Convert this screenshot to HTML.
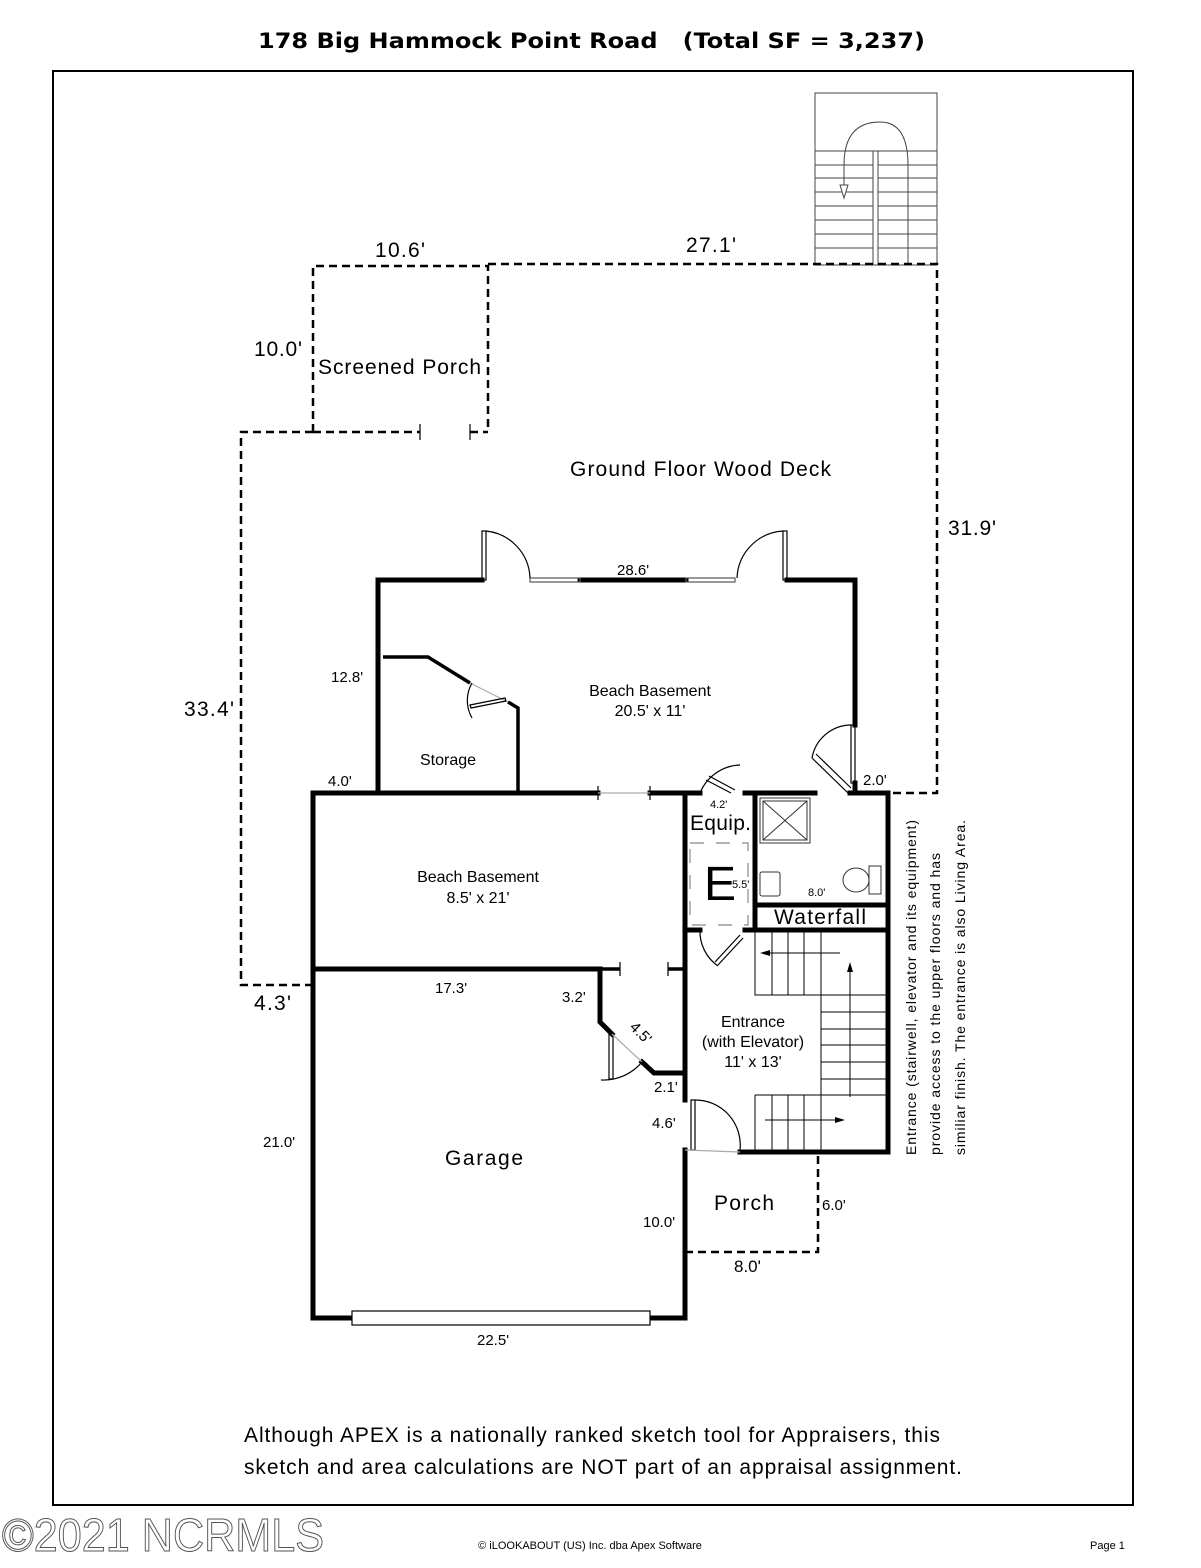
<!DOCTYPE html>
<html><head><meta charset="utf-8"><style>
html,body{margin:0;padding:0;background:#fff;}
svg{display:block;}
text{font-family:"Liberation Sans",Arial,sans-serif;fill:#000;}
</style></head><body>
<svg width="1201" height="1568" viewBox="0 0 1201 1568" xmlns="http://www.w3.org/2000/svg">
<text x="258" y="48" font-size="21" font-weight="bold" style="font-family:'DejaVu Sans',sans-serif" textLength="667" lengthAdjust="spacingAndGlyphs" xml:space="preserve">178 Big Hammock Point Road   (Total SF = 3,237)</text>
<rect x="53" y="71" width="1080" height="1434" fill="none" stroke="#000" stroke-width="2"/>

<g stroke="#444" stroke-width="1" fill="none">
<rect x="815" y="93" width="122" height="172"/>
<line x1="815" y1="151" x2="937" y2="151"/><line x1="815" y1="165" x2="937" y2="165"/>
<line x1="815" y1="178" x2="937" y2="178"/><line x1="815" y1="192" x2="937" y2="192"/>
<line x1="815" y1="206" x2="937" y2="206"/><line x1="815" y1="220" x2="937" y2="220"/>
<line x1="815" y1="234" x2="937" y2="234"/><line x1="815" y1="248" x2="937" y2="248"/>
<rect x="873" y="151" width="5" height="114" fill="#fff"/>
<path d="M844 195 V165 Q844 122 880 122 Q908 122 908 165 V265"/>
<path d="M840 185 L848 185 L844 198 Z" fill="#fff"/>
</g>

<g stroke="#000" stroke-width="2.5" fill="none" stroke-dasharray="8,5">
<path d="M313 432 V266 H488 V432"/>
<line x1="313" y1="432" x2="420" y2="432"/>
<line x1="470" y1="432" x2="488" y2="432"/>
<path d="M488 264 H937 V793 H855"/>
<path d="M313 432 H241 V985 H313"/>
<path d="M685 1252 H818 V1155"/>
</g>
<g stroke="#000" stroke-width="1.2"><line x1="420" y1="424" x2="420" y2="440"/><line x1="470" y1="424" x2="470" y2="440"/></g>

<g stroke="#000" stroke-width="5" fill="none" stroke-linecap="square">
<line x1="378" y1="580" x2="482" y2="580"/>
<line x1="580" y1="580" x2="686" y2="580"/>
<line x1="787" y1="580" x2="855" y2="580"/>
<line x1="378" y1="580" x2="378" y2="793"/>
<line x1="855" y1="580" x2="855" y2="725"/>
<line x1="855" y1="783" x2="855" y2="793"/>
<line x1="313" y1="793" x2="598" y2="793"/>
<line x1="650" y1="793" x2="700" y2="793"/>
<line x1="745" y1="793" x2="815" y2="793"/>
<line x1="850" y1="793" x2="888" y2="793"/>
<line x1="313" y1="793" x2="313" y2="1318"/>
<line x1="313" y1="969" x2="600" y2="969"/>
<path d="M600 969 V1022 L612 1034"/>
<path d="M642 1062 L654 1073 H685"/>
<line x1="685" y1="793" x2="685" y2="1100"/>
<line x1="685" y1="1150" x2="685" y2="1318"/>
<line x1="313" y1="1318" x2="352" y2="1318"/>
<line x1="650" y1="1318" x2="685" y2="1318"/>
<line x1="755" y1="793" x2="755" y2="930"/>
<line x1="888" y1="793" x2="888" y2="1152"/>
<line x1="755" y1="905" x2="888" y2="905"/>
<line x1="685" y1="930" x2="700" y2="930"/>
<line x1="745" y1="930" x2="888" y2="930"/>
<line x1="740" y1="1152" x2="888" y2="1152"/>
</g>
<g stroke="#000" stroke-width="3.5" fill="none">
<path d="M383 657 H428 L470 683"/>
<path d="M508 702 L518 708 V793"/>
<line x1="600" y1="969" x2="620" y2="969"/>
<line x1="668" y1="969" x2="685" y2="969"/>
</g>
<g stroke="#000" stroke-width="1.2" fill="none">
<line x1="598" y1="786" x2="598" y2="800"/><line x1="650" y1="786" x2="650" y2="800"/>
<line x1="598" y1="793" x2="650" y2="793" stroke="#aaa"/>
<line x1="620" y1="962" x2="620" y2="976"/><line x1="668" y1="962" x2="668" y2="976"/>
<rect x="530" y="578" width="50" height="4" stroke="#555"/>
<rect x="686" y="578" width="49" height="4" stroke="#555"/>
<rect x="482" y="531" width="4" height="49"/>
<path d="M486 531 A49 49 0 0 1 530 578"/>
<rect x="783" y="531" width="4" height="49"/>
<path d="M783 531 A49 49 0 0 0 737 578"/>
<path d="M470 683 L508 702" stroke="#aaa"/>
<path d="M470 705 L505 698 L506 701 L471 708 Z"/>
<path d="M472 683 A35 35 0 0 0 472 718"/>
<rect x="851" y="725" width="4" height="58"/>
<path d="M812 758 L848 793 M816 754 L851 788"/>
<path d="M851 725 A40 40 0 0 0 812 758"/>
<path d="M706 780 L731 793 M709 776 L735 790"/>
<path d="M700 793 A45 45 0 0 1 740 765"/>
<path d="M715 962 L740 935 M718 965 L743 938"/>
<path d="M700 930 A42 42 0 0 0 718 966"/>
<rect x="609" y="1034" width="4" height="45"/>
<path d="M612 1034 L642 1062" stroke="#aaa"/>
<path d="M601 1080 A50 50 0 0 0 642 1062"/>
<rect x="691" y="1100" width="4" height="50"/>
<path d="M695 1100 A45 45 0 0 1 740 1150"/>
<line x1="685" y1="1150" x2="740" y2="1152" stroke="#aaa"/>
<rect x="352" y="1311" width="298" height="14" fill="#fff"/>
</g>

<g stroke="#888" stroke-width="1.2" fill="none" stroke-dasharray="14,12">
<rect x="690" y="843" width="58" height="82"/>
</g>
<g stroke="#333" stroke-width="1" fill="none">
<rect x="760" y="798" width="50" height="45"/>
<rect x="763" y="801" width="44" height="39"/>
<line x1="763" y1="801" x2="807" y2="840"/><line x1="807" y1="801" x2="763" y2="840"/>
<rect x="760" y="872" width="20" height="24" rx="2"/>
<ellipse cx="856" cy="880" rx="13" ry="12"/>
<rect x="869" y="866" width="12" height="28"/>
</g>

<g stroke="#000" stroke-width="1" fill="none">
<rect x="755" y="930" width="66" height="65"/>
<line x1="772" y1="930" x2="772" y2="995"/><line x1="788" y1="930" x2="788" y2="995"/><line x1="804" y1="930" x2="804" y2="995"/>
<line x1="821" y1="995" x2="888" y2="995"/>
<line x1="821" y1="995" x2="821" y2="1152"/>
<line x1="821" y1="1012" x2="888" y2="1012"/><line x1="821" y1="1029" x2="888" y2="1029"/>
<line x1="821" y1="1045" x2="888" y2="1045"/><line x1="821" y1="1062" x2="888" y2="1062"/>
<line x1="821" y1="1079" x2="888" y2="1079"/><line x1="821" y1="1095" x2="888" y2="1095"/>
<line x1="755" y1="1095" x2="821" y2="1095"/>
<line x1="755" y1="1095" x2="755" y2="1152"/>
<line x1="772" y1="1095" x2="772" y2="1152"/><line x1="788" y1="1095" x2="788" y2="1152"/><line x1="804" y1="1095" x2="804" y2="1152"/>
<line x1="765" y1="953" x2="840" y2="953"/>
<line x1="850" y1="1097" x2="850" y2="968"/>
<line x1="765" y1="1120" x2="840" y2="1120"/>
</g>
<g fill="#000"><path d="M760 953 L770 950 L770 956Z"/><path d="M850 962 L847 972 L853 972Z"/><path d="M845 1120 L835 1117 L835 1123Z"/></g>

<g font-size="21">
<text x="375" y="257" textLength="50">10.6'</text>
<text x="686" y="252" textLength="50">27.1'</text>
<text x="254" y="356" textLength="48">10.0'</text>
<text x="318" y="374" textLength="163">Screened Porch</text>
<text x="570" y="476" textLength="261">Ground Floor Wood Deck</text>
<text x="948" y="535" textLength="48">31.9'</text>
<text x="184" y="716" textLength="50">33.4'</text>
<text x="254" y="1010" textLength="37">4.3'</text>
<text x="445" y="1165" textLength="78">Garage</text>
<text x="714" y="1210" textLength="60">Porch</text>
<text x="734" y="1272" font-size="17">8.0'</text>
<text x="774" y="924" textLength="92">Waterfall</text>
<text x="690" y="830" textLength="61">Equip.</text>
<text x="704" y="900" font-size="48">E</text>
</g>
<g font-size="16" text-anchor="middle">
<text x="650" y="696">Beach Basement</text>
<text x="650" y="716">20.5' x 11'</text>
<text x="478" y="882">Beach Basement</text>
<text x="478" y="903">8.5' x 21'</text>
<text x="448" y="765">Storage</text>
<text x="753" y="1027">Entrance</text>
<text x="753" y="1047">(with Elevator)</text>
<text x="753" y="1067">11'  x 13'</text>
</g>
<g font-size="15">
<text x="617" y="575">28.6'</text>
<text x="331" y="682">12.8'</text>
<text x="328" y="786">4.0'</text>
<text x="863" y="785">2.0'</text>
<text x="435" y="993">17.3'</text>
<text x="562" y="1002">3.2'</text>
<text x="626" y="1035" transform="rotate(45 636 1035)">4.5'</text>
<text x="654" y="1092">2.1'</text>
<text x="652" y="1128">4.6'</text>
<text x="263" y="1147">21.0'</text>
<text x="643" y="1227">10.0'</text>
<text x="822" y="1210">6.0'</text>
<text x="477" y="1345">22.5'</text>
</g>
<g font-size="11">
<text x="710" y="808">4.2'</text>
<text x="732" y="888">5.5'</text>
<text x="808" y="896">8.0'</text>
</g>
<g font-size="14">
<text transform="translate(916 1155) rotate(-90)" textLength="335">Entrance (stairwell, elevator and its equipment)</text>
<text transform="translate(940 1155) rotate(-90)" textLength="302">provide access to the upper floors and has</text>
<text transform="translate(965 1155) rotate(-90)" textLength="335">similiar finish.  The entrance is also Living Area.</text>
</g>
<text x="244" y="1442" font-size="21" textLength="696">Although APEX is a nationally ranked sketch tool for Appraisers, this</text>
<text x="244" y="1474" font-size="21" textLength="718">sketch and area calculations are NOT part of an appraisal assignment.</text>
<text x="2" y="1551" font-size="46" textLength="322" lengthAdjust="spacingAndGlyphs" stroke="#555" stroke-width="1" style="fill:#fff">©2021 NCRMLS</text>
<text x="590" y="1549" font-size="11" text-anchor="middle">© iLOOKABOUT (US) Inc. dba Apex Software</text>
<text x="1090" y="1549" font-size="11">Page 1</text>
</svg>
</body></html>
